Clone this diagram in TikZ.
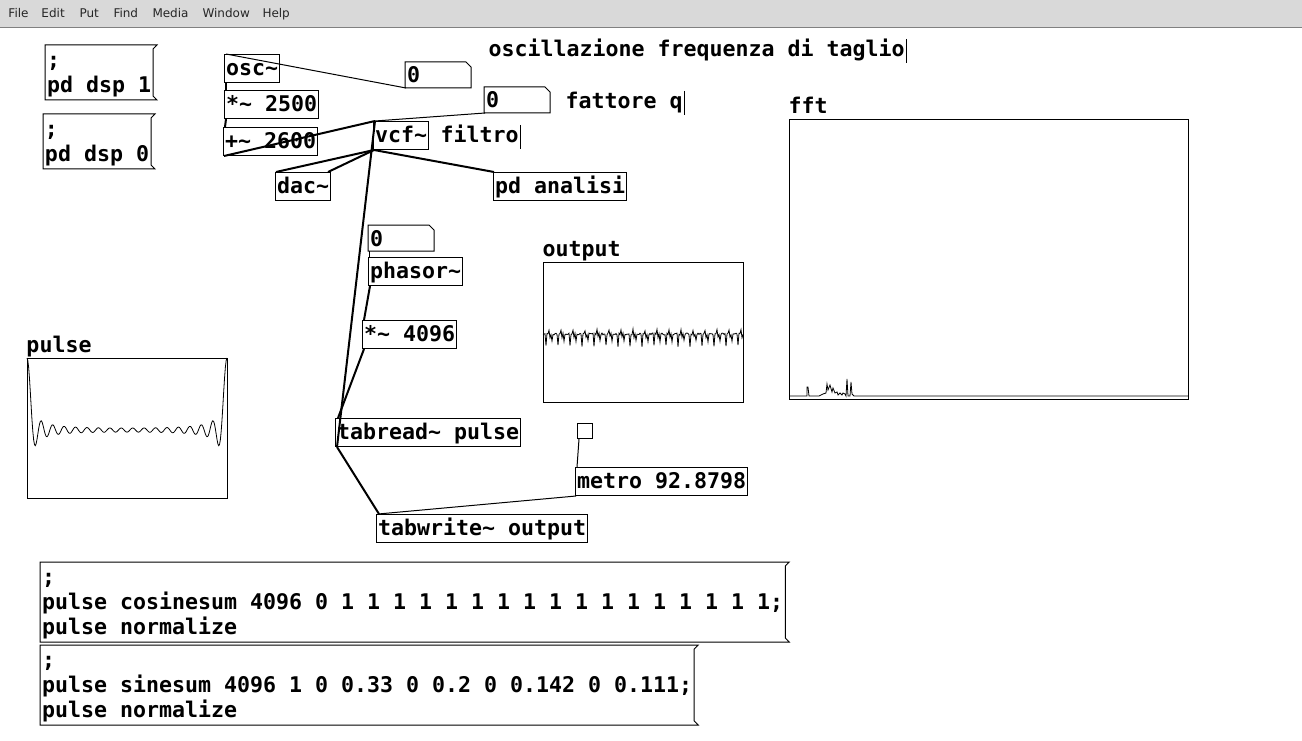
\documentclass[tikz,border=0pt]{standalone}
\usepackage{fontspec}
\setmonofont{DejaVu Sans Mono}
\newfontfamily\menufont{DejaVu Sans}
\usepackage{tikz}
\newcommand{\pdfont}{\ttfamily\bfseries\fontsize{21.6}{25}\selectfont}
\newcommand{\tld}{\textasciitilde}
\newcommand{\mtop}{\rule{0pt}{20pt}}
\newcommand{\mbot}{\rule[-5pt]{0pt}{5pt}}
\definecolor{menubg}{RGB}{217,217,217}
\definecolor{menuline}{RGB}{128,128,128}

\begin{document}
\begin{tikzpicture}[x=1pt, y=-1pt, font=\pdfont, line width=1pt,
    obj/.style={draw, anchor=north west, inner xsep=1.5pt, inner ysep=2pt, text height=19pt, text depth=5pt},
    num/.style={anchor=north west, inner xsep=1.5pt, inner ysep=2pt, text width=62pt, text height=18.5pt, text depth=2.5pt},
    msg/.style={anchor=north west, align=left, inner xsep=1.5pt, inner ysep=2pt},
    cmt/.style={anchor=base west, inner sep=0pt},
    menuitem/.style={anchor=base west, inner sep=0pt, font=\menufont\fontsize{12}{14}\selectfont, text=black!85},
    sig/.style={line width=2pt},
    ctl/.style={line width=1pt},
    wave/.style={line width=0.8pt},
    declare function={pulsef(\t)=(cos(\t)+cos(2*\t)+cos(3*\t)+cos(4*\t)+cos(5*\t)+cos(6*\t)+cos(7*\t)+cos(8*\t)+cos(9*\t)+cos(10*\t)+cos(11*\t)+cos(12*\t)+cos(13*\t)+cos(14*\t)+cos(15*\t)+cos(16*\t)+cos(17*\t))/17;}]
    \useasboundingbox (0,0) rectangle (1302,741);

    % menu bar
    \fill[menubg] (0,0) rectangle (1302,28);
    \draw[menuline] (0,28) -- (1302,28);
    \foreach \p/\t in {8/File, 41/Edit, 79/Put, 113/Find, 152/Media, 202/Window, 262/Help}
        \node[menuitem] (m\t) at (\p,18) {\t};

    % messages
    \node[msg] (msgon)  at (45,45)   {\mtop;\\pd dsp 1\mbot};
    \node[msg] (msgoff) at (43,114)  {\mtop;\\pd dsp 0\mbot};
    \node[msg] (msgcos) at (40,562)  {\mtop;\\pulse cosinesum 4096 0 1 1 1 1 1 1 1 1 1 1 1 1 1 1 1 1 1;\\pulse normalize\mbot};
    \node[msg] (msgsin) at (40,645)  {\mtop;\\pulse sinesum 4096 1 0 0.33 0 0.2 0 0.142 0 0.111;\\pulse normalize\mbot};

    % objects
    \node[obj] (osc)  at (224,54)  {osc\tld};
    \node[obj] (mul)  at (224,90)  {*\tld{} 2500};
    \node[obj] (add)  at (223,127) {+\tld{} 2600};
    \node[obj] (vcf)  at (373,121) {vcf\tld};
    \node[obj] (dac)  at (275,172) {dac\tld};
    \node[obj] (ana)  at (493,172) {pd analisi};
    \node[obj] (phs)  at (368,257) {phasor\tld};
    \node[obj] (mulb) at (362,320) {*\tld{} 4096};
    \node[obj] (trd)  at (335,418) {tabread\tld{} pulse};
    \node[obj] (met)  at (575,467) {metro 92.8798};
    \node[obj] (twr)  at (376,514) {tabwrite\tld{} output};
    \node[draw, anchor=north west, minimum size=15pt, inner sep=0pt] (bng) at (577,423) {};

    % number boxes
    \node[num] (numf) at (405,62)  {0};
    \node[num] (numq) at (484,87)  {0};
    \node[num] (nump) at (368,225) {0};

    % comments
    \node[cmt] (tit)  at (488,57)  {oscillazione frequenza di taglio};
    \node[cmt] (fq)   at (565,109) {fattore q};
    \node[cmt] (filt) at (440,143) {filtro};
    \node[cmt] (lfft) at (788,114) {fft};
    \node[cmt] (lout) at (542,256) {output};
    \node[cmt] (lpul) at (26,352)  {pulse};
    \foreach \c in {tit,fq,filt}
        \draw ([xshift=1.5pt,yshift=18pt]\c.base east) -- ([xshift=1.5pt,yshift=-6pt]\c.base east);

    % box outlines
    \foreach \m in {msgon,msgoff,msgcos,msgsin}
        \draw (\m.north west) -- ([xshift=4pt]\m.north east) -- ([yshift=-4pt]\m.north east)
            -- ([yshift=4pt]\m.south east) -- ([xshift=4pt]\m.south east) -- (\m.south west) -- cycle;
    \foreach \n in {numf,numq,nump}
        \draw (\n.north west) -- ([xshift=-5pt]\n.north east) -- ([yshift=-5pt]\n.north east)
            -- (\n.south east) -- (\n.south west) -- cycle;

    % graphs
    \draw (27,358) rectangle (227,498);
    \draw[wave] plot[domain=0:360, samples=241] ({27+\x/1.8}, {428-70*pulsef(\x)});
    \draw (543,262) rectangle (743,402);
    \pgfmathsetseed{11}
    \draw[wave] (543,334) \foreach \i in {1,...,200} {
        -- (543+\i, {334+rand+12*(mod(\i,12)==3)+7*(mod(\i,12)==9)+3*(mod(\i,12)==7)-4*(mod(\i,12)==6)}) };
    \draw (789,120) rectangle (1188,399);
    \draw[wave] plot coordinates {(789,396) (807,396) (807,387) (808,387) (809,396) (819,396)
        (821,395) (823,394) (826,393) (827,384) (828,390) (830,385) (832,392) (833,388) (835,393)
        (837,392) (838,395) (840,393) (842,395) (843,393) (845,394) (846,396) (847,379) (848,396)
        (850,396) (851,382) (852,394) (854,396) (1188,396)};

    % connections
    \path[ctl]
        ([xshift=1pt]numf.south west) edge ([xshift=2pt]osc.north west)
        ([xshift=1pt]numq.south west) edge ([xshift=2pt]vcf.north west)
        ([xshift=1pt]nump.south west) edge ([xshift=1pt]phs.north west)
        ([xshift=2pt]bng.south west)  edge ([xshift=2pt]met.north west)
        ([xshift=1pt]met.south west)  edge ([xshift=2pt]twr.north west);
    \path[sig]
        ([xshift=2pt]osc.south west)  edge ([xshift=2pt]mul.north west)
        ([xshift=2pt]mul.south west)  edge ([xshift=2pt]add.north west)
        ([xshift=1pt]add.south west)  edge ([xshift=2pt]vcf.north west)
        ([xshift=1pt]vcf.south west)  edge ([xshift=1pt]dac.north west)
                                      edge ([xshift=-3pt]dac.north east)
                                      edge ([xshift=1pt]ana.north west)
        ([xshift=2pt]trd.south west)  edge ([xshift=2pt]vcf.north west)
                                      edge ([xshift=3pt]twr.north west)
        ([xshift=2pt]phs.south west)  edge ([xshift=2pt]mulb.north west)
        ([xshift=2pt]mulb.south west) edge ([xshift=3pt]trd.north west);
\end{tikzpicture}
\end{document}
